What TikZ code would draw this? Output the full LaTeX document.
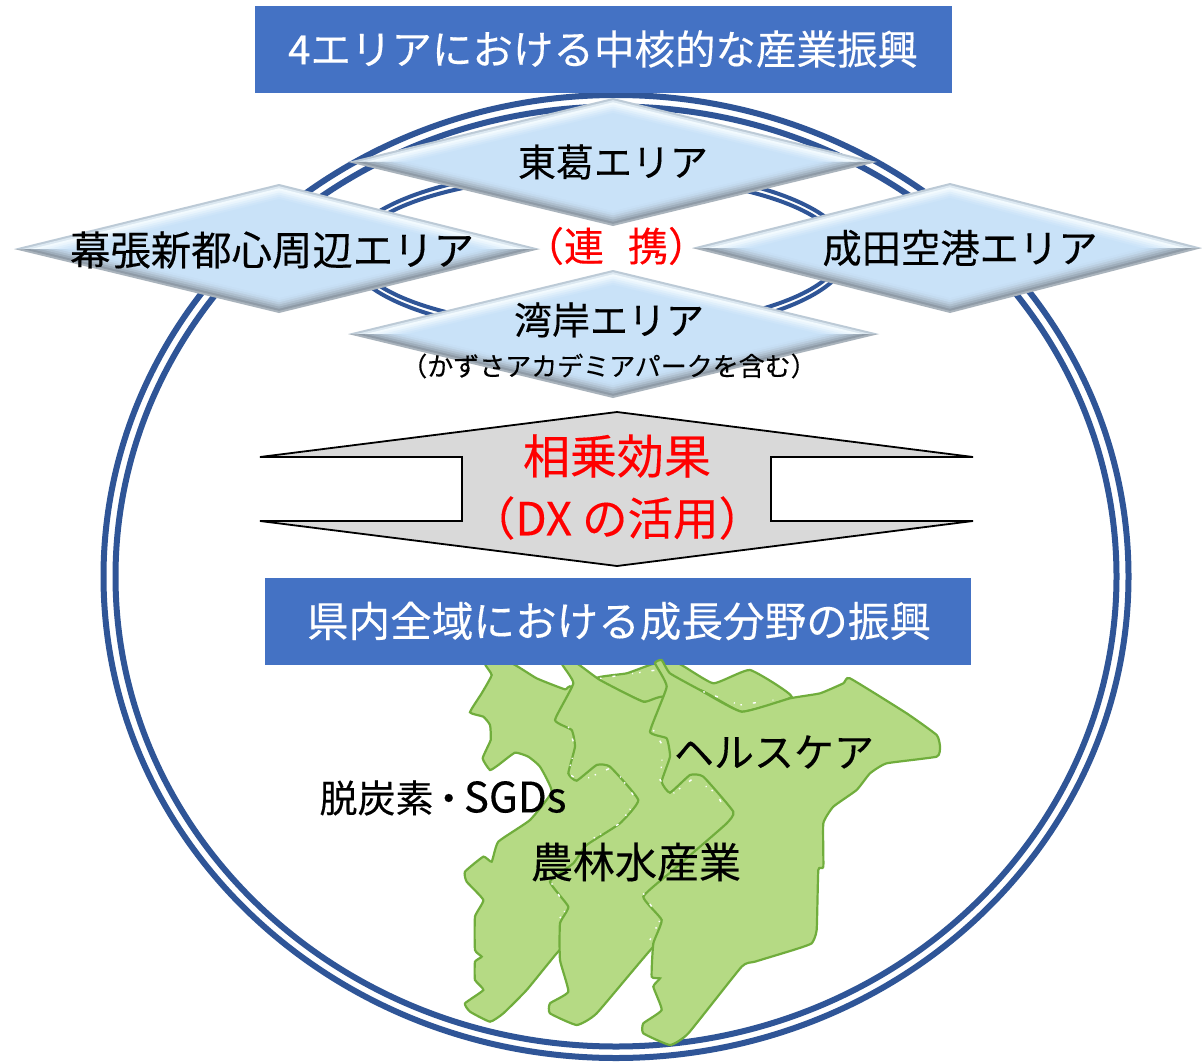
\documentclass[tikz,border=0pt]{standalone}
\usepackage{fontspec}
\setmainfont[FakeBold=0.25]{Noto Sans CJK JP}
\definecolor{barblue}{HTML}{4472C4}
\definecolor{ringblue}{HTML}{2F5597}
\definecolor{mapfill}{HTML}{B5DA84}
\definecolor{mapline}{HTML}{70AD3C}
\definecolor{arrowgray}{HTML}{D9D9D9}
\definecolor{dfill}{HTML}{C9E2F8}
\definecolor{ua}{HTML}{BCCAD6}
\definecolor{ub}{HTML}{DCE8F1}
\definecolor{uc}{HTML}{F2FAFE}
\definecolor{ud}{HTML}{EAF5FD}
\definecolor{ue}{HTML}{DFEFFB}
\definecolor{uf}{HTML}{D6E9FA}
\definecolor{ug}{HTML}{CEE5F9}
\definecolor{la}{HTML}{A9B3BC}
\definecolor{lb}{HTML}{8F9BA7}
\definecolor{lc}{HTML}{9FAEBC}
\definecolor{ld}{HTML}{AEBFCE}
\definecolor{le}{HTML}{BACDDF}
\definecolor{lf}{HTML}{C2D9ED}
\definecolor{lg}{HTML}{C7DFF5}
\newcommand{\fsz}[1]{\fontsize{#1}{#1}\selectfont}
\newcommand{\bevelshape}[6]{%
  \foreach \k/\uu/\ll in {0/ua/la,1/ub/lb,2/uc/lc,3/ud/ld,4/ue/le,5/uf/lf,6/ug/lg,7/dfill/dfill}{
    \fill[\uu] (#3+\k*8.6,#2) -- (#1,#5+\k*2.15) -- (#4-\k*8.6,#2) -- cycle;
    \fill[\ll] (#3+\k*8.6,#2) -- (#1,#6-\k*2.15) -- (#4-\k*8.6,#2) -- cycle;
  }%
}
\tikzset{
  bar/.style={fill=barblue,draw=none},
  bartext/.style={text=white,inner sep=0pt,anchor=center},
  ringout/.style={draw=ringblue,line width=6pt},
  ringin/.style={draw=ringblue,line width=4pt},
  land/.style={fill=mapfill,draw=mapline,line width=2.2pt},
  seam/.style={draw=white,line width=1.4pt,dash pattern=on 1.5pt off 11pt on 3pt off 17pt on 1pt off 6pt},
  lbl/.style={text=black,inner sep=0pt,anchor=center},
  redlbl/.style={text=red,inner sep=0pt,anchor=center}
}
\begin{document}
\begin{tikzpicture}[x=1pt,y=-1pt]
\useasboundingbox (0,0) rectangle (1202,1062);
\fill[white] (0,0) rectangle (1202,1062);
% rings
\draw[ringout] (616,576.5) ellipse [x radius=512.5,y radius=481.5];
\draw[ringout] (616,576.5) ellipse [x radius=500.5,y radius=470];
\draw[ringin] (598,252) ellipse [x radius=250,y radius=84];
\draw[ringin] (598,252) ellipse [x radius=243,y radius=77];
% map, back layers
\begin{scope}[shift={(440,650)},scale=0.33333]
\draw[land] plot[smooth cycle,tension=.25] coordinates {
 (135,40)(155,75)(125,130)(90,187)(130,200)(150,225)(152,270)(128,325)(150,360)(175,345)(225,308)(265,320)(300,350)(335,425)(270,510)(175,575)(155,635)(130,620)(75,665)(80,695)(130,750)(105,800)(105,900)(125,920)(105,935)(105,990)(130,1020)(75,1060)(90,1085)(150,1115)(190,1090)(260,1020)(350,910)(450,800)(700,500)(650,200)(400,110)(375,118)(290,85)(215,40)};
\draw[land] plot[smooth cycle,tension=.25] coordinates {
 (470,85)(560,70)(645,40)(715,40)(820,100)(930,60)(1055,140)(905,185)(780,120)(680,140)(610,155)};
\draw[land] plot[smooth cycle,tension=.25] coordinates {
 (365,40)(400,100)(345,210)(395,240)(405,290)(385,370)(410,392)(470,345)(510,350)(595,450)(540,520)(440,585)(400,640)(330,695)(385,770)(360,820)(360,930)(385,1025)(330,1060)(330,1090)(410,1125)(470,1090)(640,890)(1000,500)(1000,220)(680,140)(610,155)(480,90)(410,40)};
\end{scope}
% bars
\fill[bar] (255,6) rectangle (952,93);
\node[bartext,font=\fsz{40.5}] (title) at (603,49) {4エリアにおける中核的な産業振興};
\fill[bar] (265,578) rectangle (971,665);
\node[bartext,font=\fsz{41.6}] (sub) at (619,621) {県内全域における成長分野の振興};
% map, front layer
\begin{scope}[shift={(440,650)},scale=0.33333]
\draw[land] plot[smooth cycle,tension=.25] coordinates {
 (645,40)(665,30)(690,70)(780,120)(905,185)(1050,145)(1140,130)(1210,100)(1230,85)(1400,190)(1490,255)(1500,290)(1490,320)(1340,340)(1290,370)(1250,420)(1180,470)(1150,520)(1150,650)(1135,660)(1130,840)(1115,880)(1060,900)(945,935)(905,950)(745,1150)(690,1185)(610,1150)(610,1120)(665,1080)(640,1010)(660,985)(635,980)(640,880)(665,810)(610,740)(700,660)(780,590)(860,520)(880,485)(790,380)(750,375)(690,428)(665,395)(690,320)(680,265)(630,245)(680,110)};
\path[seam] (385,230)--(405,290)--(385,370)--(420,395)--(520,350)--(590,450)--(540,520)--(460,565);
\path[seam] (640,240)--(670,290)--(660,390)--(700,430)--(760,385)--(830,430)--(860,490);
\path[seam] (610,730)--(660,810)--(630,870);
\path[seam] (335,700)--(380,775)--(345,825);
\path[seam] (480,85)--(650,60);
\path[seam] (790,125)--(900,165)--(1000,150);
\end{scope}
% diamonds
\bevelshape{613}{162}{348}{877}{98}{226}
\bevelshape{613}{334}{348}{879}{270}{398}
\bevelshape{279}{249}{14}{540}{184}{313}
\bevelshape{950}{248}{692}{1202}{183}{313}
\node[lbl,font=\fsz{38}] (tokatsu) at (613,162) {東葛エリア};
\node[lbl,font=\fsz{40.4}] (makuhari) at (272,250) {幕張新都心周辺エリア};
\node[lbl,font=\fsz{39.3}] (narita) at (960,248) {成田空港エリア};
\node[lbl,font=\fsz{38}] (wangan) at (609,320) {湾岸エリア};
\node[lbl,font=\fsz{26}] (kazusa) at (609,366) {（かずさアカデミアパークを含む）};
\node[redlbl,font=\fsz{40}] (renkei) at (616,246) {（連\hspace{0.6em}携）};
% arrow
\filldraw[fill=arrowgray,draw=black,line width=1.8pt,line join=miter] (617,412) -- (973,457) -- (771,457) -- (771,521) -- (973,521) -- (617,566) -- (260,521) -- (462,521) -- (462,457) -- (260,457) -- cycle;
\node[redlbl,font=\fsz{47}] (sojo) at (617,456) {相乗効果};
\node[redlbl,font=\fsz{45.5}] (dx) at (617,518) {（DX の活用）};
% map labels
\node[lbl,font=\fsz{38}] (dec) at (443,798) {脱炭素\hspace{-0.1em}・\hspace{-0.1em}{\fsz{42}SGDs}};
\node[lbl,font=\fsz{42}] (agri) at (636,862) {農林水産業};
\node[lbl,font=\fsz{40}] (health) at (774,752) {ヘルスケア};
\end{tikzpicture}
\end{document}
